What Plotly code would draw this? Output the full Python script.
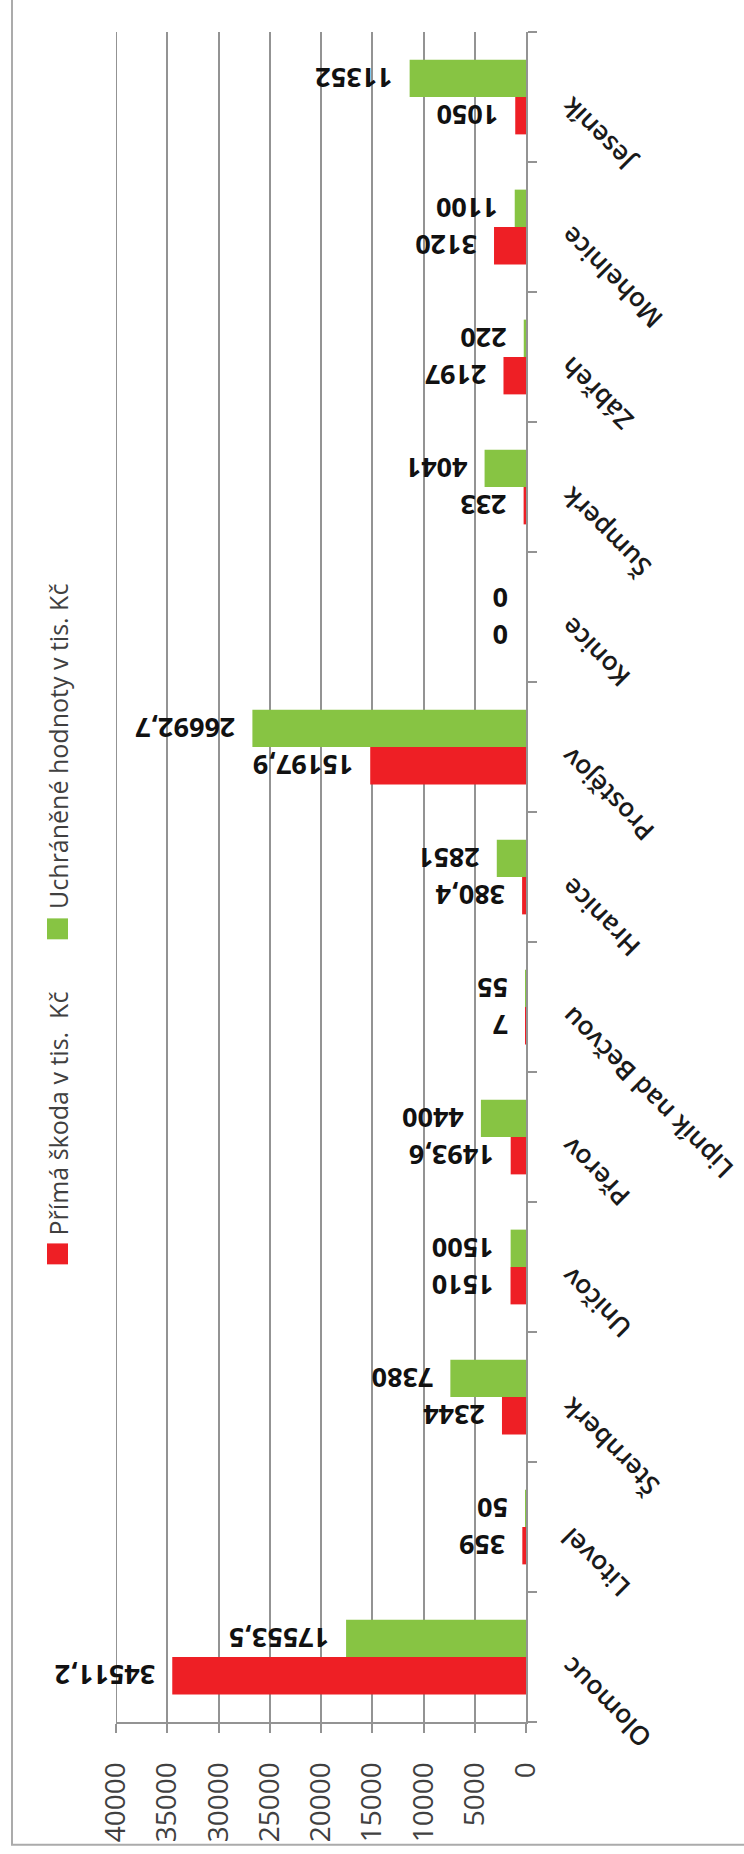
import plotly.graph_objects as go

categories = ["Olomouc", "Litovel", "Šternberk", "Uničov", "Přerov", "Lipník nad Bečvou",
              "Hranice", "Prostějov", "Konice", "Šumperk", "Zábřeh", "Mohelnice", "Jeseník"]
prima_skoda = [34511.2, 359, 2344, 1510, 1493.6, 7, 380.4, 15197.9, 0, 233, 2197, 3120, 1050]
uchranene = [17553.5, 50, 7380, 1500, 4400, 55, 2851, 26692.7, 0, 4041, 220, 1100, 11352]
series_names = ["Přímá škoda v tis.  Kč", "Uchráněné hodnoty v tis. Kč"]
value_ticks = [0, 5000, 10000, 15000, 20000, 25000, 30000, 35000, 40000]

RED = "#EE1F25"
GREEN = "#87C443"
GRID = "#939393"
FONT = "Open Sans"
BARGAP = 0.425

# plot-area geometry in pixels
L, R, T, B = 116, 526, 32, 1727
W, H = R - L, B - T


def px(x):
    return (x - L) / W


def py(y):
    return (B - y) / H


def fmt(v):
    return f"{v:g}".replace(".", ",")


LABEL_FONT = dict(family=FONT, size=27, color="#111111", weight="bold")
half_bar = (1 - BARGAP) / 4  # centre offset of each bar within its group

fig = go.Figure()
annotations = []
series = [(prima_skoda, RED, series_names[0], -half_bar), (uchranene, GREEN, series_names[1], half_bar)]
for vals, col, name, off in series:
    fig.add_trace(go.Bar(
        y=categories, x=vals, orientation="h", name=name,
        marker=dict(color=col, line=dict(width=0)),
        text=[("\u00a0\u00a0" + fmt(v)) if v != 0 else "" for v in vals],
        textposition="outside", textangle=180,
        constraintext="none", cliponaxis=False,
        textfont=LABEL_FONT,
        showlegend=False,
    ))
    # zero-valued bars: label sits just left of the zero line
    for i, v in enumerate(vals):
        if v == 0:
            annotations.append(dict(
                x=0, y=i + off, xref="x", yref="y", xanchor="right", yanchor="middle",
                xshift=-16, text=fmt(v), textangle=180, showarrow=False, font=LABEL_FONT,
            ))

for c in categories:
    annotations.append(dict(
        x=px(550), y=c, xref="paper", yref="y", xanchor="left", yanchor="top",
        text=c, textangle=-135, showarrow=False, yshift=10,
        font=dict(family=FONT, size=26, color="#1a1a1a", weight=600),
    ))

# legend (rotated, built from annotations + squares)
shapes = []
legend_items = [(series_names[0], RED, 1247, 1241), (series_names[1], GREEN, 921, 914)]
for name, col, sq_top, txt_bottom in legend_items:
    shapes.append(dict(type="rect", xref="paper", yref="paper",
                       x0=px(47), x1=px(68), y0=py(sq_top + 21), y1=py(sq_top),
                       fillcolor=col, line=dict(width=0)))
    annotations.append(dict(
        x=px(58), y=py(txt_bottom), xref="paper", yref="paper",
        xanchor="center", yanchor="bottom", text=name, textangle=-90, showarrow=False,
        font=dict(family=FONT, size=25, color="#404040"),
    ))

# gridline at the far edge of the value axis (40000)
shapes.append(dict(type="line", xref="x", yref="paper", x0=value_ticks[-1], x1=value_ticks[-1],
                   y0=0, y1=1, line=dict(color=GRID, width=2), layer="below"))

# outer chart frame
shapes.append(dict(type="rect", xref="paper", yref="paper",
                   x0=px(12), x1=px(770), y0=py(1850), y1=py(-20),
                   line=dict(color="#ababab", width=2), fillcolor="rgba(0,0,0,0)", layer="below"))

fig.update_layout(
    width=744, height=1854,
    margin=dict(l=L, r=744 - R, t=T, b=1854 - B, pad=0),
    paper_bgcolor="white", plot_bgcolor="white",
    barmode="group", bargap=BARGAP, bargroupgap=0,
    annotations=annotations, shapes=shapes,
    xaxis=dict(range=[value_ticks[-1], value_ticks[0]], tickvals=value_ticks,
               ticktext=[str(v) for v in value_ticks],
               showgrid=True, gridcolor=GRID, gridwidth=2, zeroline=False,
               showline=True, linecolor=GRID, linewidth=2,
               ticks="outside", ticklen=9, tickwidth=2, tickcolor=GRID,
               tickangle=-90, ticklabelstandoff=18,
               tickfont=dict(family=FONT, size=28, color="#404040")),
    yaxis=dict(side="right", type="category", range=[-0.5, len(categories) - 0.5],
               showgrid=False, zeroline=False, showline=True, linecolor=GRID, linewidth=2,
               ticks="outside", ticklen=9, tickwidth=2, tickcolor=GRID, tickson="boundaries",
               showticklabels=False),
    font=dict(family=FONT),
)

fig.write_html("out.html", config={"displayModeBar": False},
               post_script="document.body.style.margin='0';document.body.style.overflow='hidden';")
